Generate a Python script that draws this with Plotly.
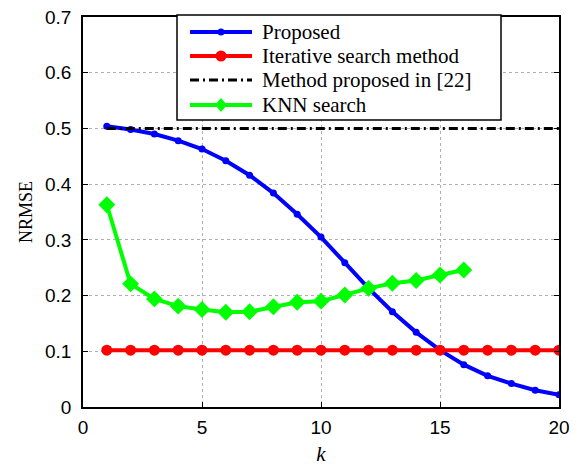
import plotly.graph_objects as go

k_all = list(range(1, 21))
proposed = [0.504, 0.498, 0.490, 0.478, 0.463, 0.442, 0.416, 0.384, 0.346, 0.305,
            0.259, 0.213, 0.171, 0.134, 0.102, 0.076, 0.056, 0.042, 0.030, 0.022]
iterative = [0.102] * 20
method22 = [0.5] * 20
k_knn = list(range(1, 17))
knn = [0.363, 0.221, 0.194, 0.181, 0.175, 0.170, 0.171, 0.180, 0.188, 0.190,
       0.201, 0.213, 0.222, 0.227, 0.237, 0.246]

x_ticks = [0, 5, 10, 15, 20]
y_ticks = [0, 0.1, 0.2, 0.3, 0.4, 0.5, 0.6, 0.7]
y_ticklabels = ["0", "0.1", "0.2", "0.3", "0.4", "0.5", "0.6", "0.7"]

series_names = ["Proposed", "Iterative search method", "Method proposed in [22]", "KNN search"]
series_colors = ["#0000FF", "#FF0000", "black", "#00FF00"]

W, H = 586, 466
ML, MR, MT, MB = 83, 27, 17, 59
PW, PH = W - ML - MR, H - MT - MB

def px(xp):
    return (xp - ML) / PW

def py(yp):
    return (H - MB - yp) / PH

fig = go.Figure()
fig.add_trace(go.Scatter(x=k_all, y=proposed, mode="lines+markers", name=series_names[0],
                         line=dict(color=series_colors[0], width=4),
                         marker=dict(symbol="circle", size=7, color=series_colors[0])))
fig.add_trace(go.Scatter(x=k_all, y=iterative, mode="lines+markers", name=series_names[1],
                         line=dict(color=series_colors[1], width=4),
                         marker=dict(symbol="circle", size=11, color=series_colors[1])))
fig.add_trace(go.Scatter(x=k_all, y=method22, mode="lines", name=series_names[2],
                         line=dict(color=series_colors[2], width=3, dash="9px,4px,2px,4px")))
fig.add_trace(go.Scatter(x=k_knn, y=knn, mode="lines+markers", name=series_names[3],
                         line=dict(color=series_colors[3], width=4),
                         marker=dict(symbol="diamond", size=13, color=series_colors[3])))

# manual legend (box, sample lines, markers, labels)
shapes = [dict(type="rect", xref="paper", yref="paper", layer="above",
               x0=px(177), x1=px(501), y0=py(120), y1=py(15),
               line=dict(color="black", width=1.5), fillcolor="white")]
annotations = []
rows = [32, 56, 80, 105]
lx0, lx1, lxm, tx = 190, 252, 221, 260
dashes = ["solid", "solid", "9px,4px,2px,4px", "solid"]
widths = [4, 4, 3, 4]
for i, yr in enumerate(rows):
    shapes.append(dict(type="line", xref="paper", yref="paper", layer="above",
                       x0=px(lx0), x1=px(lx1), y0=py(yr), y1=py(yr),
                       line=dict(color=series_colors[i], width=widths[i], dash=dashes[i])))
    annotations.append(dict(text=series_names[i], xref="paper", yref="paper",
                            x=px(tx), y=py(yr), xanchor="left", yanchor="middle",
                            showarrow=False,
                            font=dict(family="Liberation Serif", size=21, color="black")))
# legend markers
shapes.append(dict(type="circle", xref="paper", yref="paper", layer="above",
                   xsizemode="pixel", ysizemode="pixel", xanchor=px(lxm), yanchor=py(rows[0]),
                   x0=-3.5, x1=3.5, y0=-3.5, y1=3.5,
                   fillcolor=series_colors[0], line=dict(width=0)))
shapes.append(dict(type="circle", xref="paper", yref="paper", layer="above",
                   xsizemode="pixel", ysizemode="pixel", xanchor=px(lxm), yanchor=py(rows[1]),
                   x0=-5.5, x1=5.5, y0=-5.5, y1=5.5,
                   fillcolor=series_colors[1], line=dict(width=0)))
shapes.append(dict(type="path", xref="paper", yref="paper", layer="above",
                   xsizemode="pixel", ysizemode="pixel", xanchor=px(lxm), yanchor=py(rows[3]),
                   path="M0,7 L6,0 L0,-7 L-6,0 Z",
                   fillcolor=series_colors[3], line=dict(width=0)))

axis_common = dict(showline=True, linecolor="black", linewidth=1.5, mirror="ticks",
                   ticks="inside", ticklen=5, tickcolor="black", automargin=False,
                   showgrid=True, gridcolor="#b0b0b0", griddash="dot", gridwidth=1,
                   zeroline=False,
                   tickfont=dict(family="Liberation Sans, Arial", size=19, color="black"))

fig.update_layout(
    width=W, height=H,
    margin=dict(l=ML, r=MR, t=MT, b=MB),
    plot_bgcolor="white", paper_bgcolor="white",
    showlegend=False,
    shapes=shapes,
    annotations=annotations,
    xaxis=dict(range=[0, 20], tickvals=x_ticks, ticklabelstandoff=2,
               title=dict(text="<i>k</i>", font=dict(family="Liberation Serif", size=21, color="black"),
                          standoff=12),
               **axis_common),
    yaxis=dict(range=[0, 0.7], tickvals=y_ticks, ticktext=y_ticklabels, ticklabelstandoff=6,
               title=dict(text="NRMSE", font=dict(family="Liberation Serif", size=18, color="black"),
                          standoff=8),
               **axis_common),
)

fig.write_html("out.html")
